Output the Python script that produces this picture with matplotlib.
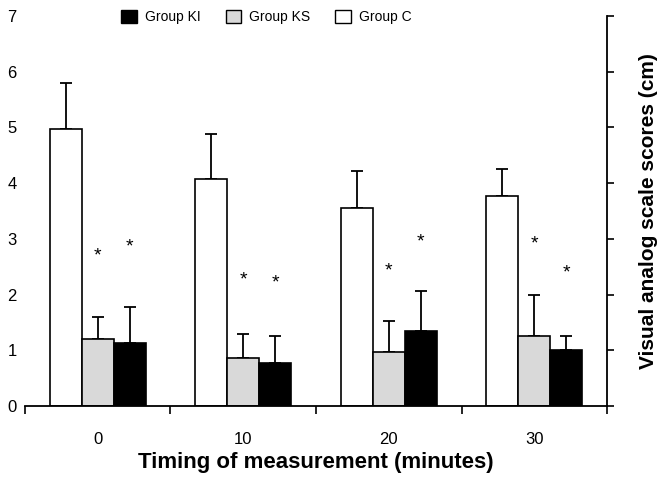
import numpy as np
import matplotlib
matplotlib.use("Agg")
import matplotlib.pyplot as plt
from matplotlib.patches import Patch

plt.rcParams["font.family"] = ["Liberation Sans", "DejaVu Sans"]

timings = ["0", "10", "20", "30"]

# group C (white), group KS (grey), group KI (black)
mean_c = [4.97, 4.08, 3.56, 3.77]
err_c = [0.83, 0.81, 0.66, 0.48]
mean_ks = [1.20, 0.87, 0.97, 1.25]
err_ks = [0.40, 0.42, 0.56, 0.74]
mean_ki = [1.13, 0.77, 1.35, 1.00]
err_ki = [0.64, 0.49, 0.72, 0.26]

star_ks = [2.70, 2.26, 2.42, 2.91]
star_ki = [2.86, 2.20, 2.94, 2.38]


def main():
    fig = plt.figure(figsize=(6.66, 4.78), dpi=100)
    ax = fig.add_axes([0.0375, 0.1506, 0.874, 0.8159])

    x = np.arange(len(timings))
    w = 0.22
    kw = dict(width=w, edgecolor="black", linewidth=1.2, zorder=2)
    ekw = dict(elinewidth=1.3, capthick=1.3)

    for off, means, errs, col in [(-w, mean_c, err_c, "white"),
                                  (0, mean_ks, err_ks, "#d9d9d9"),
                                  (w, mean_ki, err_ki, "black")]:
        ax.bar(x + off, means, color=col, **kw)
        ax.errorbar(x + off, means, yerr=[np.zeros(len(errs)), errs],
                    fmt="none", ecolor="black", capsize=4, zorder=1, **ekw)

    for i in x:
        ax.text(i, star_ks[i], "*", ha="center", va="center", fontsize=14)
        ax.text(i + w, star_ki[i], "*", ha="center", va="center", fontsize=14)

    ax.set_xlim(-0.5, len(timings) - 0.5)
    ax.set_ylim(0, 7)
    ax.set_yticks(range(8))

    ax.spines["left"].set_visible(False)
    ax.spines["top"].set_visible(False)
    for s in ["bottom", "right"]:
        ax.spines[s].set_linewidth(1.3)

    ax.tick_params(axis="y", left=False, labelleft=True, right=True,
                   labelright=False, direction="out", length=5, width=1.2,
                   labelsize=12, pad=1)
    ax.set_xticks(x)
    ax.set_xticklabels(timings)
    ax.set_xticks(np.arange(-0.5, len(timings)), minor=True)
    ax.tick_params(axis="x", which="major", length=0, labelsize=12, pad=19)
    ax.tick_params(axis="x", which="minor", length=6, width=1.2,
                   direction="out")

    ax.set_xlabel("Timing of measurement (minutes)", fontsize=16,
                  fontweight="bold", labelpad=3)
    ax.yaxis.set_label_position("right")
    ax.set_ylabel("Visual analog scale scores (cm)", fontsize=15,
                  fontweight="bold", labelpad=18)

    handles = [Patch(facecolor="black", edgecolor="black", label="Group KI"),
               Patch(facecolor="#d9d9d9", edgecolor="black", label="Group KS"),
               Patch(facecolor="white", edgecolor="black", label="Group C")]
    ax.legend(handles=handles, ncol=3, frameon=False, fontsize=10,
              loc="center", bbox_to_anchor=(0.4, 0.965),
              bbox_transform=fig.transFigure, handlelength=1.1,
              handleheight=1.1, handletextpad=0.6, columnspacing=1.8)

    fig.savefig("out.png", dpi=100)


if __name__ == "__main__":
    main()
